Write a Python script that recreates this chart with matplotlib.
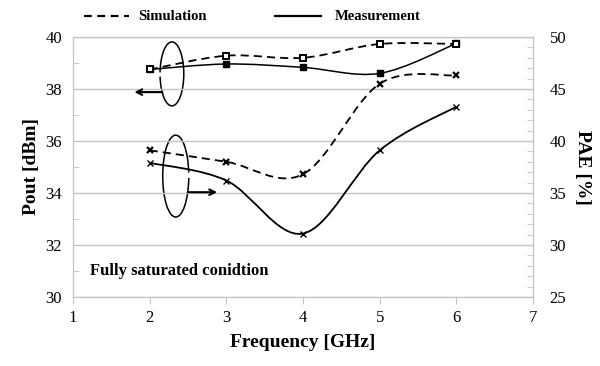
import matplotlib
matplotlib.use("Agg")
import matplotlib.pyplot as plt
import numpy as np
from matplotlib.path import Path
from matplotlib.patches import PathPatch, Arc
from matplotlib.ticker import MultipleLocator

plt.rcParams['font.family'] = ['Liberation Serif', 'DejaVu Serif']

freq = [2, 3, 4, 5, 6]
pout_sim = [38.75, 39.28, 39.2, 39.73, 39.73]
pout_meas = [38.75, 38.96, 38.83, 38.6, 39.75]
pae_sim = [39.1, 38.0, 36.8, 45.5, 46.3]
pae_meas = [37.9, 36.2, 31.1, 39.1, 43.3]


def smooth_path(xs, ys):
    # bezier segments like a spreadsheet "smoothed line"
    p = np.column_stack([xs, ys]).astype(float)
    n = len(p)
    verts = [p[0]]
    codes = [Path.MOVETO]
    for i in range(n - 1):
        p0 = p[i - 1] if i > 0 else p[i]
        p3 = p[i + 2] if i + 2 < n else p[i + 1]
        c1 = p[i] + (p[i + 1] - p0) / 6
        c2 = p[i + 1] - (p3 - p[i]) / 6
        verts += [c1, c2, p[i + 1]]
        codes += [Path.CURVE4] * 3
    return Path(verts, codes)


def draw_curve(ax, xs, ys, ls, lw):
    patch = PathPatch(smooth_path(xs, ys), fill=False, edgecolor='black',
                      linewidth=lw, linestyle=ls, capstyle='butt')
    ax.add_patch(patch)


fig = plt.figure(figsize=(6, 3.66), dpi=100)
ax = fig.add_axes([0.1217, 0.1885, 0.7666, 0.7105])
ax2 = ax.twinx()

grid_c = '#c4c4c4'
ax.set_xlim(1, 7)
ax.set_ylim(30, 40)
ax2.set_ylim(25, 50)
ax.set_xticks(range(1, 8))
ax.set_yticks(range(30, 41, 2))
ax2.set_yticks(range(25, 51, 5))
ax.yaxis.set_minor_locator(MultipleLocator(1))
ax2.yaxis.set_minor_locator(MultipleLocator(1))
ax.grid(axis='y', color=grid_c, linewidth=1)
for a in (ax, ax2):
    for s in a.spines.values():
        s.set_color(grid_c)
ax.tick_params(axis='x', direction='out', length=5, color=grid_c, labelsize=12, pad=4)
ax.tick_params(axis='y', which='major', length=0, labelsize=12, pad=8)
ax.tick_params(axis='y', which='minor', direction='in', length=4, color=grid_c)
ax2.tick_params(axis='y', which='both', direction='in', length=4, color=grid_c,
                labelsize=12, pad=12)

dash = (0, (4.5, 2.8))
draw_curve(ax, freq, pout_sim, dash, 1.3)
draw_curve(ax, freq, pout_meas, '-', 1.1)
draw_curve(ax2, freq, pae_sim, dash, 1.3)
draw_curve(ax2, freq, pae_meas, '-', 1.3)

ax.plot(freq, pout_meas, ls='none', marker='s', ms=5, mfc='black', mec='black')
ax.plot(freq, pout_sim, ls='none', marker='s', ms=5, mfc='white', mec='black', mew=1.4)
ax2.plot(freq, pae_meas, ls='none', marker='x', ms=5, mec='black', mew=1.0)
ax2.plot(freq, pae_sim, ls='none', marker='x', ms=5, mec='black', mew=1.6)

# ellipses with arrows pointing to the axis each pair belongs to
ax.add_patch(Arc((2.29, 38.58), 0.31, 2.46, theta1=-146, theta2=160,
                 color='black', lw=1.1))
ax.annotate('', xy=(1.8, 37.88), xytext=(2.165, 37.88),
            arrowprops=dict(arrowstyle='->', color='black', lw=1.5,
                            shrinkA=0, shrinkB=0))
ax.add_patch(Arc((2.34, 34.65), 0.34, 3.15, theta1=39, theta2=337,
                 color='black', lw=1.1))
ax.annotate('', xy=(2.88, 34.03), xytext=(2.495, 34.03),
            arrowprops=dict(arrowstyle='->', color='black', lw=1.5,
                            shrinkA=0, shrinkB=0))

ax.text(1.22, 31.0, 'Fully saturated conidtion', fontsize=12, fontweight='bold',
        va='center', ha='left')

ax.set_xlabel('Frequency [GHz]', fontsize=14, fontweight='bold', labelpad=6)
ax.set_ylabel('Pout [dBm]', fontsize=14, fontweight='bold', labelpad=4)
ax2.set_ylabel('PAE [%]', fontsize=14, fontweight='bold', rotation=-90, labelpad=18)

# legend above the plot
fig.lines.append(plt.Line2D([0.14, 0.215], [0.956, 0.956], transform=fig.transFigure,
                            color='black', lw=1.6, ls=(0, (3.5, 2.5))))
fig.text(0.23, 0.956, 'Simulation', fontsize=10.5, fontweight='bold', va='center')
fig.lines.append(plt.Line2D([0.458, 0.535], [0.956, 0.956], transform=fig.transFigure,
                            color='black', lw=1.6))
fig.text(0.558, 0.956, 'Measurement', fontsize=10.5, fontweight='bold', va='center')

fig.savefig('out.png', dpi=100)
